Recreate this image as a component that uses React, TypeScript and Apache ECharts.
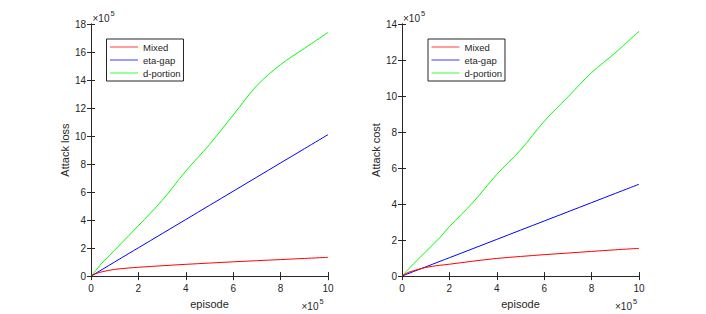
import React, { useEffect, useRef } from "react";
import * as echarts from "echarts";

// episode (x 10^5)
const episodes = [0, 0.25, 0.5, 1, 1.6, 2, 3, 4, 5, 6, 7, 8, 9, 10];

// Attack loss (x 10^5)
const lossMixed = [0, 0.2, 0.32, 0.48, 0.58, 0.63, 0.74, 0.84, 0.93, 1.02, 1.1, 1.18, 1.26, 1.34];
const lossEtaGap = [0, 0.25, 0.5, 1.01, 1.62, 2.02, 3.03, 4.04, 5.05, 6.06, 7.07, 8.08, 9.09, 10.1];
const lossDPortion = [0, 0.5, 1.0, 1.85, 2.9, 3.6, 5.4, 7.5, 9.4, 11.5, 13.6, 15.1, 16.25, 17.4];

// Attack cost (x 10^5)
const costMixed = [0, 0.2, 0.3, 0.48, 0.6, 0.66, 0.83, 0.98, 1.09, 1.19, 1.28, 1.37, 1.46, 1.54];
const costEtaGap = [0, 0.13, 0.26, 0.51, 0.82, 1.02, 1.53, 2.04, 2.55, 3.06, 3.57, 4.08, 4.59, 5.1];
const costDPortion = [0, 0.35, 0.7, 1.35, 2.14, 2.75, 4.1, 5.65, 7.0, 8.6, 9.95, 11.3, 12.4, 13.6];

const seriesNames = ["Mixed", "eta-gap", "d-portion"];
const seriesColors = ["#ff0000", "#0000ff", "#00ff00"];
const legendColors = ["#ff9c9c", "#9c9cff", "#9cff9c"];

const xTicks = { min: 0, max: 10, interval: 2 };
const lossTicks = { min: 0, max: 18, interval: 2 };
const costTicks = { min: 0, max: 14, interval: 2 };

const FONT = "'Liberation Sans', Arial, Helvetica, sans-serif";
const INK = "#262626";

function pairs(xs: number[], ys: number[]) {
  return xs.map((x, i) => [x, ys[i]]);
}

export default function App() {
  const ref = useRef<HTMLDivElement>(null);

  useEffect(() => {
    document.body.style.margin = "0";
    if (!ref.current) return;
    const chart = echarts.init(ref.current, undefined, { renderer: "svg" });

    const grids = [
      { left: 91, top: 24, width: 237, height: 255 },
      { left: 402, top: 24, width: 237, height: 255 },
    ];

    const axisCommon = {
      axisLine: { show: true, lineStyle: { color: INK, width: 1 } },
      axisTick: { show: true, inside: true, length: 4, lineStyle: { color: INK } },
      splitLine: { show: false },
    };
    const labelStyle = { color: INK, fontSize: 10, fontFamily: FONT };

    const xAxes: any[] = [];
    const yAxes: any[] = [];
    [0, 1].forEach((g) => {
      xAxes.push({
        type: "value",
        gridIndex: g,
        position: "bottom",
        ...xTicks,
        ...axisCommon,
        axisLabel: { ...labelStyle, margin: 7 },
        name: "episode",
        nameLocation: "middle",
        nameGap: 21,
        nameTextStyle: { color: INK, fontSize: 11, fontFamily: FONT },
      });
      xAxes.push({
        type: "value",
        gridIndex: g,
        position: "top",
        ...xTicks,
        ...axisCommon,
        axisLabel: { show: false },
      });
      const yt = g === 0 ? lossTicks : costTicks;
      yAxes.push({
        type: "value",
        gridIndex: g,
        position: "left",
        ...yt,
        ...axisCommon,
        axisLabel: { ...labelStyle, margin: 5 },
        name: g === 0 ? "Attack loss" : "Attack cost",
        nameLocation: "middle",
        nameGap: 18,
        nameTextStyle: { color: INK, fontSize: 11, fontFamily: FONT },
      });
      yAxes.push({
        type: "value",
        gridIndex: g,
        position: "right",
        ...yt,
        ...axisCommon,
        axisLabel: { show: false },
      });
    });

    const lossData = [lossMixed, lossEtaGap, lossDPortion];
    const costData = [costMixed, costEtaGap, costDPortion];
    const series: any[] = [];
    [lossData, costData].forEach((set, g) => {
      set.forEach((ys, i) => {
        series.push({
          type: "line",
          name: seriesNames[i],
          xAxisIndex: g * 2,
          yAxisIndex: g * 2,
          data: pairs(episodes, ys),
          symbol: "none",
          smooth: 0.35,
          lineStyle: { color: seriesColors[i], width: 1 },
          itemStyle: { color: seriesColors[i] },
          z: 2 + (2 - i),
        });
      });
    });

    const legendData = seriesNames.map((n, i) => ({
      name: n,
      icon: "rect",
      itemStyle: { color: legendColors[i], borderWidth: 0 },
    }));
    const legendCommon = {
      orient: "vertical",
      top: 39,
      data: legendData,
      itemWidth: 28,
      itemHeight: 2,
      itemGap: 1,
      padding: [2, 3, 2, 3.5],
      borderColor: INK,
      borderWidth: 1,
      backgroundColor: "#ffffff",
      selectedMode: false,
      textStyle: { color: INK, fontSize: 9.5, fontFamily: FONT, lineHeight: 12 },
    };

    const exp = (x: number, y: number) => [
      {
        type: "text",
        x,
        y,
        style: { text: "×10", fill: INK, font: `10px ${FONT}`, textVerticalAlign: "middle" },
      },
      {
        type: "text",
        x: x + 18,
        y: y - 5,
        style: { text: "5", fill: INK, font: `7.5px ${FONT}`, textVerticalAlign: "middle" },
      },
    ];

    chart.setOption({
      animation: false,
      backgroundColor: "#ffffff",
      grid: grids,
      xAxis: xAxes,
      yAxis: yAxes,
      series,
      legend: [
        { ...legendCommon, left: 106.5 },
        { ...legendCommon, left: 428 },
      ],
      graphic: [
        ...exp(92.5, 18.5),
        ...exp(301.5, 306.5),
        ...exp(403, 18.5),
        ...exp(615, 306.5),
      ],
    });

    return () => chart.dispose();
  }, []);

  return <div ref={ref} style={{ width: 706, height: 314 }} />;
}
